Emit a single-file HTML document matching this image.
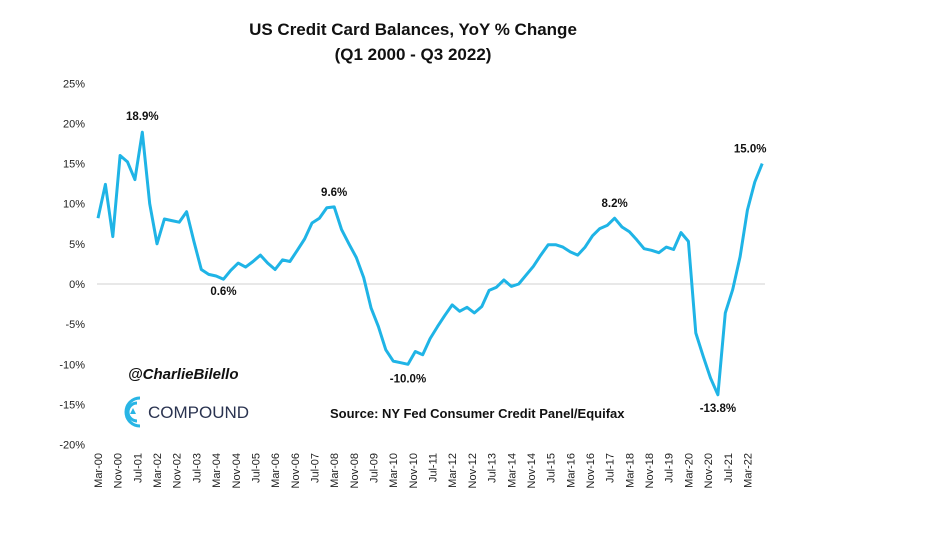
<!DOCTYPE html>
<html><head><meta charset="utf-8">
<style>
body{margin:0;background:#fff;}
svg{display:block;font-family:"Liberation Sans",sans-serif;}
</style></head>
<body>
<svg width="940" height="541" viewBox="0 0 940 541">
<text x="413" y="35" text-anchor="middle" font-size="17" font-weight="bold" fill="#111">US Credit Card Balances, YoY % Change</text>
<text x="413" y="60" text-anchor="middle" font-size="17" font-weight="bold" fill="#111">(Q1 2000 - Q3 2022)</text>
<g id="yaxis"></g>
<g id="xaxis"></g>
<line x1="97" x2="765" y1="284" y2="284" stroke="#d0d0d0" stroke-width="1"/>
<path id="line" fill="none" stroke="#1fb4e6" stroke-width="3" stroke-linejoin="round"/>
<g id="labels"></g>
<text x="128" y="379" font-size="15" font-weight="bold" font-style="italic" fill="#111">@CharlieBilello</text>
<g>
<path d="M140 398 A14 14 0 1 0 140 426" fill="none" stroke="#28b5e5" stroke-width="3"/>
<path d="M137 403 A9 9 0 1 0 137 421" fill="none" stroke="#28b5e5" stroke-width="3"/>
<polygon points="133,408 130,414 136,414" fill="#28b5e5"/>
<text x="148" y="418" font-size="17" fill="#2a3350">COMPOUND</text>
</g>
<text x="330" y="418" font-size="13" font-weight="bold" fill="#111">Source: NY Fed Consumer Credit Panel/Equifax</text>
</svg>
<script>
const values=[8.2,12.4,5.9,16.0,15.2,13.0,18.9,10.0,5.0,8.1,7.9,7.7,9.0,5.3,1.8,1.2,1.0,0.6,1.7,2.6,2.1,2.8,3.6,2.6,1.8,3.0,2.8,4.2,5.6,7.6,8.2,9.5,9.6,6.8,5.0,3.3,0.8,-3.0,-5.3,-8.2,-9.6,-9.8,-10.0,-8.4,-8.8,-6.8,-5.3,-3.9,-2.6,-3.4,-2.9,-3.6,-2.8,-0.8,-0.4,0.5,-0.3,0.0,1.1,2.2,3.6,4.9,4.9,4.6,4.0,3.6,4.6,6.0,6.9,7.3,8.2,7.1,6.5,5.5,4.4,4.2,3.9,4.6,4.3,6.4,5.3,-6.1,-9.0,-11.7,-13.8,-3.6,-0.7,3.4,9.2,12.7,15.0];
const yTicks=[25,20,15,10,5,0,-5,-10,-15,-20];
const xLabels=["Mar-00","Nov-00","Jul-01","Mar-02","Nov-02","Jul-03","Mar-04","Nov-04","Jul-05","Mar-06","Nov-06","Jul-07","Mar-08","Nov-08","Jul-09","Mar-10","Nov-10","Jul-11","Mar-12","Nov-12","Jul-13","Mar-14","Nov-14","Jul-15","Mar-16","Nov-16","Jul-17","Mar-18","Nov-18","Jul-19","Mar-20","Nov-20","Jul-21","Mar-22"];
const annotated=[{i:6,t:"18.9%",dy:-12},{i:17,t:"0.6%",dy:16},{i:32,t:"9.6%",dy:-11},{i:42,t:"-10.0%",dy:18},{i:70,t:"8.2%",dy:-11},{i:84,t:"-13.8%",dy:17},{i:90,t:"15.0%",dy:-11}];
const NS="http://www.w3.org/2000/svg";
const x=i=>98+i*7.38;
const y=v=>284-v*8.03;
let d="";
values.forEach((v,i)=>{d+=(i?"L":"M")+x(i).toFixed(1)+" "+y(v).toFixed(1);});
document.getElementById("line").setAttribute("d",d);
const ya=document.getElementById("yaxis");
yTicks.forEach(t=>{
 const e=document.createElementNS(NS,"text");
 e.setAttribute("x",85);e.setAttribute("y",y(t)+4);
 e.setAttribute("text-anchor","end");e.setAttribute("font-size","11");e.setAttribute("fill","#222");
 e.textContent=t+"%";
 
 
 ya.appendChild(e);
});
const xa=document.getElementById("xaxis");
xLabels.forEach((l,k)=>{
 const px=x(k*8/3)+4;
 const e=document.createElementNS(NS,"text");
 e.setAttribute("transform","translate("+px.toFixed(1)+",453) rotate(-90)");
 e.setAttribute("text-anchor","end");e.setAttribute("font-size","11");e.setAttribute("fill","#222");
 e.textContent=l;
 
 
 xa.appendChild(e);
});
const lg=document.getElementById("labels");
annotated.forEach(a=>{
 const e=document.createElementNS(NS,"text");
 e.setAttribute("x",x(a.i)-(a.i===90?12:0));e.setAttribute("y",y(values[a.i])+a.dy);
 e.setAttribute("text-anchor","middle");e.setAttribute("font-size","11.5");e.setAttribute("font-weight","bold");e.setAttribute("fill","#111");
 e.textContent=a.t;
 
 
 lg.appendChild(e);
});
</script>
</body></html>
